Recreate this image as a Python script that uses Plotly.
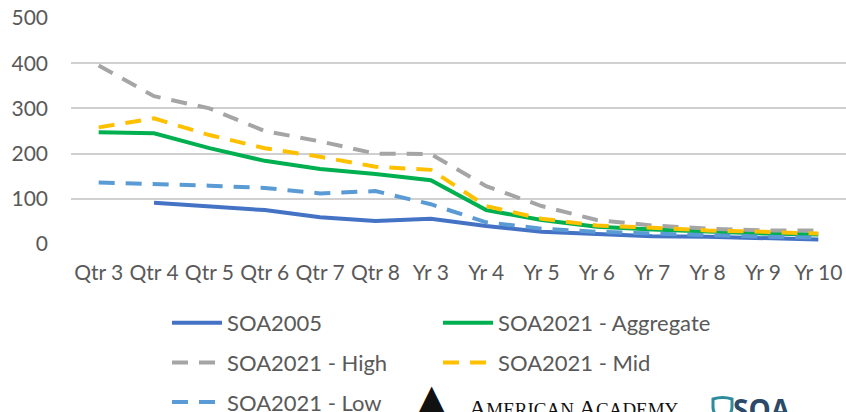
import plotly.graph_objects as go

categories = ["Qtr 3", "Qtr 4", "Qtr 5", "Qtr 6", "Qtr 7", "Qtr 8", "Yr 3",
              "Yr 4", "Yr 5", "Yr 6", "Yr 7", "Yr 8", "Yr 9", "Yr 10"]
soa2005 = [None, 91, 84, 75, 59, 51, 56, 40, 27, 21, 17, 16, 13, 10]
soa2021_aggregate = [247, 245, 212, 184, 166, 155, 141, 75, 53, 38, 32, 27, 23, 21]
soa2021_high = [395, 327, 300, 250, 227, 200, 199, 128, 84, 53, 41, 34, 30, 30]
soa2021_mid = [258, 278, 241, 212, 193, 171, 164, 84, 56, 41, 36, 30, 27, 23]
soa2021_low = [136, 133, 129, 124, 112, 117, 88, 48, 34, 27, 23, 19, 16, 14]
y_ticks = [0, 100, 200, 300, 400, 500]

W, H = 846, 412
ML, MR, MT, MB = 71, 0, 17, 168
PW, PH = W - ML - MR, H - MT - MB
Y_TOP = 500 * PH / (PH - 1)   # so the 500 gridline sits 1px inside the plot area


def px_x(px):
    return (px - ML) / PW


def px_y(py):
    return (H - MB - py) / PH


FONT = "Lato"
TXT = "#595959"
DASH = "16px,11px"

series = [
    ("SOA2005", soa2005, "#4472C4", "solid", "legend"),
    ("SOA2021 - Aggregate", soa2021_aggregate, "#00B050", "solid", "legend2"),
    ("SOA2021 - High", soa2021_high, "#A5A5A5", DASH, "legend"),
    ("SOA2021 - Mid", soa2021_mid, "#FFC000", DASH, "legend2"),
    ("SOA2021 - Low", soa2021_low, "#5B9BD5", DASH, "legend"),
]

fig = go.Figure()
for name, vals, color, dash, leg in series:
    fig.add_trace(go.Scatter(
        x=categories, y=vals, name=name, mode="lines",
        line=dict(color=color, width=4, dash=dash),
        legend=leg, legendgroup=name, connectgaps=False,
        hoverinfo="skip",
    ))

leg_common = dict(
    orientation="v", xanchor="left", yanchor="top",
    font=dict(family=FONT, size=22, color=TXT),
    bgcolor="rgba(0,0,0,0)", borderwidth=0,
    itemwidth=50, tracegroupgap=8, traceorder="grouped",
    itemclick=False, itemdoubleclick=False,
)

fig.update_layout(
    width=W, height=H,
    margin=dict(l=ML, r=MR, t=MT, b=MB, pad=0, autoexpand=False),
    paper_bgcolor="white", plot_bgcolor="white",
    font=dict(family=FONT, size=21, color=TXT),
    showlegend=True,
    legend=dict(x=px_x(167), y=px_y(302), **leg_common),
    legend2=dict(x=px_x(438), y=px_y(302), **leg_common),
    xaxis=dict(
        type="category", range=[-0.5, len(categories) - 0.5],
        showgrid=False, zeroline=False, showline=False,
        ticks="", tickangle=0, ticklabelstandoff=14,
        tickfont=dict(family=FONT, size=21, color=TXT),
    ),
    yaxis=dict(
        range=[0, Y_TOP], tickvals=y_ticks,
        showgrid=True, gridcolor="#D0D0D0", gridwidth=1.5,
        zeroline=False, showline=False, ticks="",
        ticklabelstandoff=22,
        tickfont=dict(family=FONT, size=21, color=TXT),
    ),
)

# logos at the bottom (partially cut off in the original)
fig.add_annotation(
    xref="paper", yref="paper", x=px_x(432), y=px_y(374),
    xanchor="center", yanchor="top", showarrow=False,
    text="▲", font=dict(family="DejaVu Sans", size=38, color="#111111"),
)
fig.add_annotation(
    xref="paper", yref="paper", x=px_x(467), y=px_y(393),
    xanchor="left", yanchor="top", showarrow=False,
    text="A<span style='font-size:19px'>MERICAN</span> A<span style='font-size:19px'>CADEMY</span>",
    font=dict(family="Liberation Serif", size=24, color="#111111"),
)
fig.add_annotation(
    xref="paper", yref="paper", x=px_x(731), y=px_y(388),
    xanchor="left", yanchor="top", showarrow=False,
    text="<b>SOA</b>",
    font=dict(family="Open Sans", size=28, color="#2A4A68"),
)
# shield mark of the SOA logo
sx0, sx1 = px_x(713), px_x(732)
fig.add_shape(
    type="path", xref="paper", yref="paper",
    path=(f"M {sx0},{px_y(399)} Q {(sx0 + sx1) / 2},{px_y(396)} {sx1},{px_y(399)} "
          f"L {sx1},{px_y(407)} "
          f"Q {sx1},{px_y(415)} {(sx0 + sx1) / 2},{px_y(420)} "
          f"Q {sx0},{px_y(415)} {sx0},{px_y(407)} Z"),
    line=dict(color="#2C8C9A", width=3), fillcolor="rgba(0,0,0,0)",
)

fig.write_html(
    "out.html",
    config={"displayModeBar": False, "staticPlot": False},
    post_script="document.body.style.margin='0';document.body.style.overflow='hidden';",
)
